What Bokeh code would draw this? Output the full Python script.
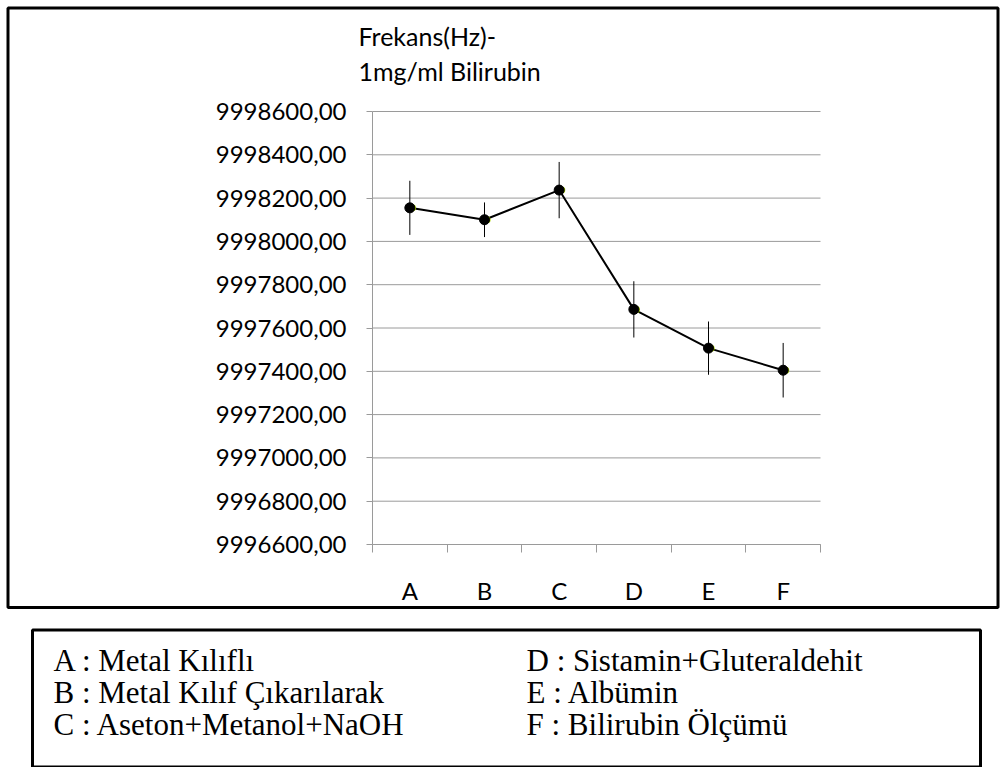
from bokeh.plotting import figure
from bokeh.models import ColumnDataSource, Range1d, FixedTicker, BoxAnnotation, Label
from bokeh.transform import dodge
from bokeh.embed import file_html
from bokeh.resources import INLINE

# Measurement steps and the mean frequency (Hz) with its spread
categories = ["A", "B", "C", "D", "E", "F"]
frequency = [9998155, 9998100, 9998237, 9997686, 9997507, 9997405]
spread = [125, 80, 130, 130, 123, 126]

y_ticks = [9996600, 9996800, 9997000, 9997200, 9997400, 9997600,
           9997800, 9998000, 9998200, 9998400, 9998600]

title_lines = ["Frekans(Hz)-", "1mg/ml Bilirubin"]
key_left = ["A : Metal Kılıflı", "B : Metal Kılıf Çıkarılarak", "C : Aseton+Metanol+NaOH"]
key_right = ["D : Sistamin+Gluteraldehit", "E : Albümin", "F : Bilirubin Ölçümü"]

GRID = "#9a9a9a"
TICK_FONT = "Lato"

# page size and the pixel box that holds the data area
W, H = 1000, 767
AX_L, AX_R, AX_T, AX_B = 372, 820, 111, 544

n = len(categories)
x_per_px = n / (AX_R - AX_L)
y_per_px = (y_ticks[-1] - y_ticks[0]) / (AX_B - AX_T)
x_range = Range1d(0 - AX_L * x_per_px, n + (W - AX_R) * x_per_px)
y_range = Range1d(y_ticks[0] - (H - AX_B) * y_per_px, y_ticks[-1] + AX_T * y_per_px)

centers = [i + 0.5 for i in range(n)]
src = ColumnDataSource(dict(
    x=centers,
    y=frequency,
    lo=[v - e for v, e in zip(frequency, spread)],
    hi=[v + e for v, e in zip(frequency, spread)],
))
grid_src = ColumnDataSource(dict(x0=[0] * len(y_ticks), x1=[n] * len(y_ticks), y=y_ticks))

p = figure(width=W, height=H, output_backend="svg", toolbar_location=None,
           x_range=x_range, y_range=y_range, min_border=0)
p.title = None
p.outline_line_color = None
p.background_fill_color = "white"
p.border_fill_color = "white"
p.xgrid.visible = False
p.ygrid.visible = False

# y axis drawn at the left edge of the data area
p.yaxis.fixed_location = 0
p.yaxis.bounds = (y_ticks[0], y_ticks[-1])
p.yaxis.ticker = FixedTicker(ticks=y_ticks)
p.yaxis.major_label_overrides = {v: f"{v},00" for v in y_ticks}
p.yaxis.axis_line_color = GRID
p.yaxis.major_tick_line_color = GRID
p.yaxis.major_tick_out = 6
p.yaxis.major_tick_in = 0
p.yaxis.minor_tick_line_color = None
p.yaxis.major_label_standoff = 20
p.yaxis.major_label_text_font = TICK_FONT
p.yaxis.major_label_text_font_size = "24px"
p.yaxis.major_label_text_color = "black"

# x axis: category labels between boundary ticks
p.xaxis.fixed_location = y_ticks[0]
p.xaxis.bounds = (0, n)
p.xaxis.ticker = FixedTicker(ticks=centers, minor_ticks=list(range(n + 1)))
p.xaxis.major_label_overrides = {c: cat for c, cat in zip(centers, categories)}
p.xaxis.axis_line_color = GRID
p.xaxis.major_tick_line_color = None
p.xaxis.major_tick_out = 0
p.xaxis.major_tick_in = 0
p.xaxis.minor_tick_line_color = GRID
p.xaxis.minor_tick_out = 8
p.xaxis.minor_tick_in = 0
p.xaxis.major_label_standoff = 23
p.xaxis.major_label_text_font = TICK_FONT
p.xaxis.major_label_text_font_size = "24px"
p.xaxis.major_label_text_color = "black"

# horizontal grid lines across the data area only
p.segment(x0="x0", y0="y", x1="x1", y1="y", source=grid_src, line_color=GRID, line_width=1)

# error bars, connecting line and markers
p.segment(x0="x", y0="lo", x1="x", y1="hi", source=src, line_color="black", line_width=1)
p.line(x="x", y="y", source=src, line_color="black", line_width=2)
p.scatter(x=dodge("x", 0.035, range=p.x_range), y="y", source=src, size=7,
          fill_color="#a8d400", line_color=None)
p.scatter(x="x", y="y", source=src, size=10, fill_color="black", line_color="black")


def frame_box(left, top, right, bottom):
    # pixel box, measured from the top-left corner of the page
    return BoxAnnotation(left=left, right=right, top=H - top, bottom=H - bottom,
                         left_units="screen", right_units="screen",
                         top_units="screen", bottom_units="screen",
                         fill_color=None, fill_alpha=0, line_color="black",
                         line_width=3, line_alpha=1, level="overlay")


p.add_layout(frame_box(7.5, 7.5, 997.5, 607))
p.add_layout(frame_box(32, 629.5, 980, 766.5))

for i, line in enumerate(title_lines):
    p.add_layout(Label(x=358, y=H - (35 + 35.5 * i), x_units="screen", y_units="screen",
                       text=line, text_font=TICK_FONT, text_font_size="25px",
                       text_color="black", text_baseline="alphabetic"))

for col_x, items in ((53, key_left), (526, key_right)):
    for i, item in enumerate(items):
        p.add_layout(Label(x=col_x, y=H - (660 + 32 * i), x_units="screen", y_units="screen",
                           text=item, text_font="Liberation Serif", text_font_size="31px",
                           text_color="black", text_baseline="alphabetic"))

open("out.html", "w").write(file_html(p, INLINE))
